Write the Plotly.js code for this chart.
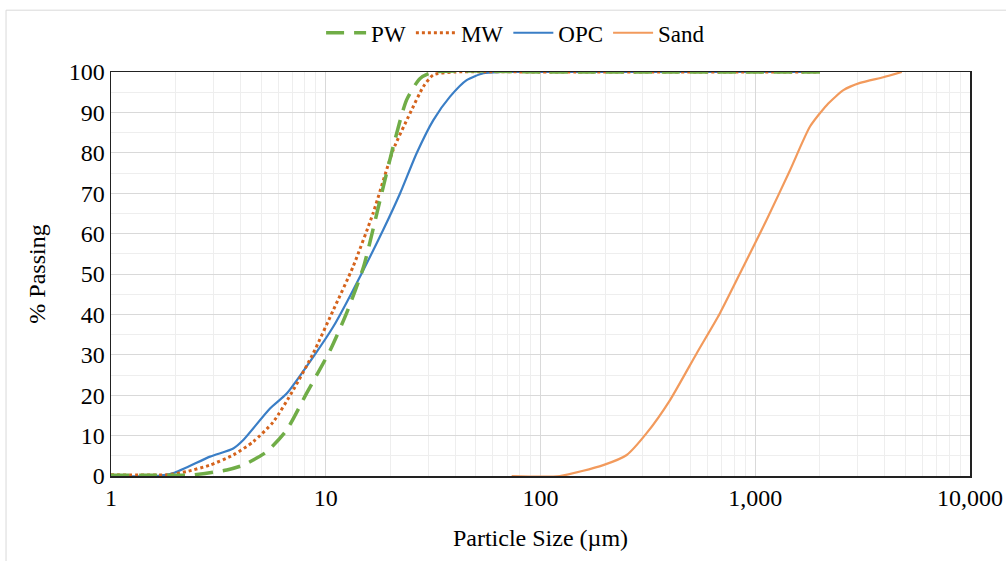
<!DOCTYPE html>
<html><head><meta charset="utf-8">
<script src="https://cdn.plot.ly/plotly-3.0.1.min.js"></script>
<style>body{margin:0;background:#fff}#chart{width:1006px;height:561px}</style>
</head><body><div id="chart"></div>
<script>
const pwSize = [1, 2, 2.33, 3.46, 4.13, 5.31, 6.58, 8.15, 10.5, 12.5, 15.0, 17.9, 20.6, 23.8, 27.5, 31.7, 100, 2000];
const pwPass = [0.2, 0.2, 0.2, 1.5, 2.7, 6.0, 11.4, 20.5, 31.2, 40.3, 51.8, 68.3, 81.5, 93.1, 98.4, 100, 100, 100];

const mwSize = [1, 1.82, 2.25, 2.89, 3.71, 4.6, 5.7, 7.06, 8.75, 10.85, 13.4, 16.6, 20.6, 24.7, 28.5, 31.7, 40, 100, 2000];
const mwPass = [0.3, 0.3, 1.1, 2.7, 5.2, 8.5, 13.4, 21.3, 30.4, 41.1, 51.8, 65.0, 80.7, 89.8, 96.4, 99.3, 100, 100, 100];

const opcSize = [1, 1.63, 1.95, 2.89, 3.71, 4.13, 5.5, 6.58, 8.75, 10.85, 13.4, 18.5, 22.2, 26.5, 31.7, 37.9, 45.3, 54.2, 64.8, 100, 2000];
const opcPass = [0, 0, 0.7, 4.8, 6.8, 8.9, 16.7, 20.4, 29.5, 37.0, 46.0, 60.9, 70.0, 79.9, 88.1, 93.9, 98.0, 99.7, 100, 100, 100];

const sandSize = [73.4, 123, 196, 252, 312, 401, 534, 685, 880, 1130, 1452, 1799, 2152, 2573, 3075, 3947, 4810];
const sandPass = [0, 0, 2.7, 5.2, 10.6, 18.8, 30.4, 40.3, 51.8, 63.4, 75.7, 86.5, 91.8, 95.5, 97.3, 98.7, 100];

const xTickVals = [1, 10, 100, 1000, 10000];
const xTickText = ['1', '10', '100', '1,000', '10,000'];
const yTickVals = [0, 10, 20, 30, 40, 50, 60, 70, 80, 90, 100];

const font = 'Liberation Serif, Times New Roman, serif';

const traces = [
  {x: opcSize, y: opcPass, name: 'OPC', mode: 'lines', legendrank: 3,
   line: {color: '#3A7EC6', width: 2.2, shape: 'spline', smoothing: 0.6}},
  {x: sandSize, y: sandPass, name: 'Sand', mode: 'lines', legendrank: 4,
   line: {color: '#F29A5C', width: 2.2, shape: 'spline', smoothing: 0.6}},
  {x: mwSize, y: mwPass, name: 'MW', mode: 'lines', legendrank: 2,
   line: {color: '#D5631C', width: 3, dash: 'dot', shape: 'spline', smoothing: 0.6}},
  {x: pwSize, y: pwPass, name: 'PW', mode: 'lines', legendrank: 1,
   line: {color: '#70AD47', width: 3.5, dash: '18px,10px', shape: 'spline', smoothing: 0.6}}
];

const layout = {
  width: 1006, height: 561,
  margin: {l: 111, r: 36, t: 72, b: 85, autoexpand: false},
  paper_bgcolor: '#fff', plot_bgcolor: '#fff',
  font: {family: font, size: 24, color: '#000'},
  showlegend: true,
  legend: {orientation: 'h', x: 0.471, xanchor: 'center', y: 1.097, yanchor: 'middle',
           font: {family: font, size: 23, color: '#000'}, itemwidth: 40, tracegroupgap: 0,
           traceorder: 'normal'},
  xaxis: {
    type: 'log', range: [0, 4],
    tickvals: xTickVals, ticktext: xTickText,
    showgrid: true, gridcolor: '#d9d9d9', gridwidth: 1,
    minor: {dtick: 'D1', showgrid: true, gridcolor: '#eeeeee', gridwidth: 1},
    showline: true, linecolor: '#222', linewidth: 1.5, mirror: true,
    ticks: '', zeroline: false, automargin: false,
    tickfont: {family: font, size: 24, color: '#000'},
    title: {text: 'Particle Size (µm)', font: {family: font, size: 24, color: '#000'}, standoff: 19}
  },
  yaxis: {
    range: [0, 100], tickvals: yTickVals,
    showgrid: true, gridcolor: '#d9d9d9', gridwidth: 1,
    minor: {dtick: 5, showgrid: true, gridcolor: '#eeeeee', gridwidth: 1},
    showline: true, linecolor: '#222', linewidth: 1.5, mirror: true,
    ticks: '', zeroline: false, automargin: false,
    tickfont: {family: font, size: 24, color: '#000'},
    title: {text: '% Passing', font: {family: font, size: 24, color: '#000'}, standoff: 16}
  },
  shapes: [{type: 'rect', xref: 'paper', yref: 'paper', x0: -0.1222, x1: 1.08, y0: -0.4, y1: 1.153,
            line: {color: '#d9d9d9', width: 1}}]
};

Plotly.newPlot('chart', traces, layout, {staticPlot: true});
</script></body></html>
